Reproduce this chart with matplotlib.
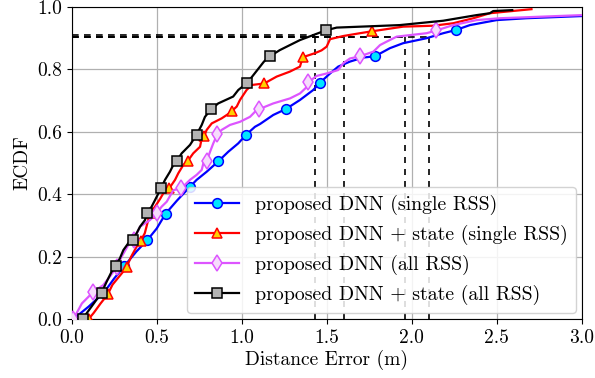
import matplotlib
matplotlib.use("Agg")
import matplotlib.pyplot as plt

# ---- font: Computer Modern look ----
plt.rcParams["font.family"] = "serif"
plt.rcParams["font.serif"] = ["cmr10"]
plt.rcParams["mathtext.fontset"] = "cm"
plt.rcParams["axes.formatter.use_mathtext"] = True
plt.rcParams["font.size"] = 14

# ---- ECDF curves (distance error in m, cumulative fraction) ----
blue_x = [0.0, 0.01, 0.1, 0.19, 0.25, 0.31, 0.38, 0.445, 0.5, 0.553, 0.62, 0.696,
          0.735, 0.794, 0.862, 0.921, 0.98, 1.025, 1.078, 1.108, 1.186, 1.26, 1.343,
          1.421, 1.458, 1.52, 1.568, 1.637, 1.715, 1.784, 1.872, 1.95, 2.088, 2.186,
          2.259, 2.343, 2.5, 2.676, 3.05]
blue_y = [0.0, 0.0, 0.04, 0.085, 0.13, 0.17, 0.216, 0.253, 0.29, 0.338, 0.38, 0.424,
          0.446, 0.472, 0.505, 0.536, 0.563, 0.59, 0.616, 0.625, 0.654, 0.673, 0.702,
          0.734, 0.756, 0.787, 0.809, 0.825, 0.838, 0.842, 0.868, 0.884, 0.9, 0.916,
          0.926, 0.942, 0.958, 0.964, 0.972]
blue_marks = [1, 3, 5, 7, 9, 11, 14, 17, 21, 24, 29, 34]

red_x = [0.08, 0.1, 0.13, 0.17, 0.212, 0.24, 0.27, 0.3, 0.324, 0.35, 0.38, 0.406,
         0.43, 0.45, 0.458, 0.49, 0.52, 0.539, 0.574, 0.608, 0.627, 0.657, 0.682,
         0.715, 0.755, 0.765, 0.78, 0.794, 0.824, 0.882, 0.921, 0.945, 0.971, 0.99,
         1.029, 1.059, 1.133, 1.206, 1.284, 1.343, 1.359, 1.431, 1.47, 1.5, 1.52,
         1.598, 1.696, 1.765, 1.95, 2.128, 2.245, 2.363, 2.46, 2.705]
red_y = [0.0, 0.0, 0.02, 0.05, 0.079, 0.11, 0.13, 0.15, 0.168, 0.2, 0.23, 0.251,
         0.275, 0.317, 0.339, 0.36, 0.385, 0.403, 0.419, 0.446, 0.467, 0.494, 0.506,
         0.531, 0.552, 0.579, 0.587, 0.606, 0.627, 0.643, 0.657, 0.668, 0.681, 0.702,
         0.734, 0.75, 0.755, 0.777, 0.793, 0.809, 0.839, 0.852, 0.861, 0.873, 0.897,
         0.907, 0.916, 0.922, 0.937, 0.94, 0.948, 0.964, 0.98, 0.993]
red_marks = [1, 4, 8, 11, 14, 18, 22, 26, 31, 36, 40, 47]

mag_x = [0.0, 0.01, 0.06, 0.127, 0.186, 0.23, 0.265, 0.294, 0.333, 0.365, 0.402,
         0.46, 0.5, 0.529, 0.559, 0.598, 0.645, 0.696, 0.735, 0.765, 0.775, 0.794,
         0.814, 0.833, 0.857, 0.882, 0.931, 0.99, 1.049, 1.078, 1.1, 1.186, 1.284,
         1.343, 1.382, 1.392, 1.441, 1.5, 1.568, 1.598, 1.637, 1.696, 1.775, 1.814,
         1.853, 1.912, 2.088, 2.146, 2.245, 2.382, 2.52, 2.715, 3.05]
mag_y = [0.0, 0.0, 0.05, 0.087, 0.109, 0.14, 0.168, 0.2, 0.237, 0.253, 0.296,
         0.317, 0.339, 0.36, 0.376, 0.413, 0.419, 0.446, 0.462, 0.478, 0.5, 0.506,
         0.536, 0.563, 0.592, 0.606, 0.622, 0.632, 0.648, 0.664, 0.672, 0.691, 0.707,
         0.723, 0.743, 0.759, 0.779, 0.787, 0.798, 0.82, 0.835, 0.842, 0.857, 0.878,
         0.889, 0.905, 0.916, 0.925, 0.942, 0.958, 0.964, 0.968, 0.975]
mag_marks = [1, 3, 6, 9, 12, 16, 21, 24, 30, 35, 41, 47]

blk_x = [0.04, 0.065, 0.09, 0.13, 0.176, 0.206, 0.235, 0.259, 0.284, 0.304, 0.333,
         0.36, 0.382, 0.402, 0.431, 0.445, 0.47, 0.49, 0.527, 0.549, 0.578, 0.598,
         0.617, 0.647, 0.696, 0.735, 0.765, 0.784, 0.82, 0.862, 0.95, 0.98, 1.033,
         1.108, 1.131, 1.166, 1.225, 1.284, 1.343, 1.421, 1.494, 1.559, 1.794, 1.93,
         2.186, 2.382, 2.46, 2.48, 2.592]
blk_y = [0.0, 0.0, 0.02, 0.05, 0.085, 0.12, 0.152, 0.17, 0.195, 0.221, 0.243,
         0.253, 0.275, 0.296, 0.317, 0.339, 0.36, 0.381, 0.421, 0.446, 0.472, 0.494,
         0.505, 0.531, 0.558, 0.591, 0.622, 0.648, 0.672, 0.691, 0.713, 0.734, 0.757,
         0.809, 0.825, 0.842, 0.862, 0.878, 0.894, 0.91, 0.925, 0.934, 0.939, 0.942,
         0.956, 0.974, 0.98, 0.987, 0.99]
blk_marks = [1, 4, 7, 11, 15, 18, 22, 25, 28, 32, 35, 40]

labels = [
    "proposed DNN (single RSS)",
    "proposed DNN + state (single RSS)",
    "proposed DNN (all RSS)",
    "proposed DNN + state (all RSS)",
]

# 90th percentile errors (blue, red, magenta, black)
p90_x = [2.10, 1.60, 1.96, 1.43]
p90_y = [0.904, 0.904, 0.904, 0.911]

fig = plt.figure(figsize=(5.95, 3.78), dpi=100)
ax = fig.add_axes([0.1205, 0.156, 0.857, 0.8255])

# dashed guides for the 90 % level
for px, py in zip(p90_x, p90_y):
    ax.plot([0, px], [py, py], color="black", lw=1.2, dashes=(4, 3.2), zorder=2)
    ax.plot([px, px], [0, py], color="black", lw=1.2, dashes=(3.6, 3.6), zorder=2)

styles = [
    (blue_x, blue_y, blue_marks, dict(color="#0000ff", marker="o", mfc="#00e5ff",
                                      mec="#0000ff", ms=7)),
    (red_x, red_y, red_marks, dict(color="#ff0000", marker="^", mfc="#ffd000",
                                   mec="#ff0000", ms=7)),
    (mag_x, mag_y, mag_marks, dict(color="#dd55ff", marker="d", mfc="#f6dcfc",
                                   mec="#dd55ff", ms=8)),
    (blk_x, blk_y, blk_marks, dict(color="black", marker="s", mfc="#b3b3b3",
                                   mec="black", ms=6.5)),
]
for (xs, ys, marks, st), lab in zip(styles, labels):
    ax.plot(xs, ys, lw=1.6, mew=1.1, markevery=marks, label=lab, zorder=3, **st)

ax.set_xlim(0, 3.0)
ax.set_ylim(0, 1.0)
ax.set_xticks([0.0, 0.5, 1.0, 1.5, 2.0, 2.5, 3.0])
ax.set_yticks([0.0, 0.2, 0.4, 0.6, 0.8, 1.0])
ax.xaxis.set_major_formatter(matplotlib.ticker.FormatStrFormatter("%.1f"))
ax.yaxis.set_major_formatter(matplotlib.ticker.FormatStrFormatter("%.1f"))
ax.grid(True, color="#b0b0b0", lw=0.9, zorder=0)
ax.set_axisbelow(True)
ax.set_xlabel("Distance Error (m)", labelpad=2)
ax.set_ylabel("ECDF")

ax.legend(loc="lower right", handlelength=2.2, fontsize=14.3, framealpha=0.85,
          borderaxespad=0.3, labelspacing=0.5)

fig.savefig("out.png", dpi=100)
